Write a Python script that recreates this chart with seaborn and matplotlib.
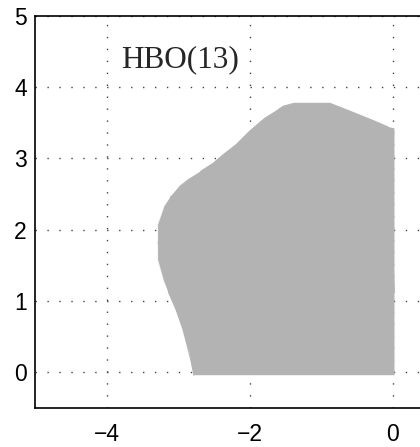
import matplotlib
matplotlib.use("Agg")
import matplotlib.pyplot as plt
import seaborn as sns

# boundary of the stability region, traced counter-clockwise (real, imag)
re_edge = [0.02, 0.02, -0.07, -0.28, -0.60, -0.88, -1.38, -1.53, -1.63, -1.79,
           -2.00, -2.19, -2.37, -2.51, -2.68, -2.84, -2.98, -3.10, -3.19, -3.23,
           -3.28, -3.28, -3.23, -3.19, -3.13, -3.09, -3.03, -2.98, -2.93, -2.89,
           -2.84, -2.82, -2.78]
im_edge = [-0.04, 3.42, 3.44, 3.53, 3.66, 3.77, 3.77, 3.73, 3.66, 3.56,
           3.38, 3.19, 3.05, 2.93, 2.82, 2.72, 2.61, 2.47, 2.33, 2.21,
           2.07, 1.58, 1.40, 1.26, 1.11, 1.02, 0.88, 0.74, 0.60, 0.44,
           0.28, 0.16, -0.04]

label = "HBO(13)"
xticks = [-4, -2, 0]
yticks = [0, 1, 2, 3, 4, 5]

sns.set_style("white")
plt.rcParams["font.family"] = ["Liberation Sans", "DejaVu Sans"]

fig = plt.figure(figsize=(4.2, 4.47), dpi=100)
ax = fig.add_axes([0.0833, 0.0872, 1.0226, 0.878])

gray = "#b3b3b3"
ax.fill(re_edge, im_edge, color=gray, lw=0, zorder=2)
sns.lineplot(x=re_edge + [re_edge[0]], y=im_edge + [im_edge[0]], sort=False,
             color=gray, lw=0.8, ax=ax, zorder=2)

ax.set_xlim(-5, 1)
ax.set_ylim(-0.5, 5)
ax.set_xticks(xticks)
ax.set_yticks(yticks)
ax.set_xticklabels(["\u2212" + str(-t) if t < 0 else str(t) for t in xticks])
ax.grid(True, color="#444444", linestyle=(0, (1, 7.6)), lw=1.0, zorder=3)

for s in ax.spines.values():
    s.set_color("black")
    s.set_linewidth(1.2)

ax.tick_params(direction="in", length=4, width=0.8, labelsize=16.5, colors="black")
ax.tick_params(axis="x", pad=10.5)
ax.tick_params(axis="y", pad=6)

ax.text(-2.98, 4.38, label, ha="center", va="center", fontsize=22.5,
        family=["Liberation Serif", "DejaVu Serif"])

fig.savefig("out.png", dpi=100)
